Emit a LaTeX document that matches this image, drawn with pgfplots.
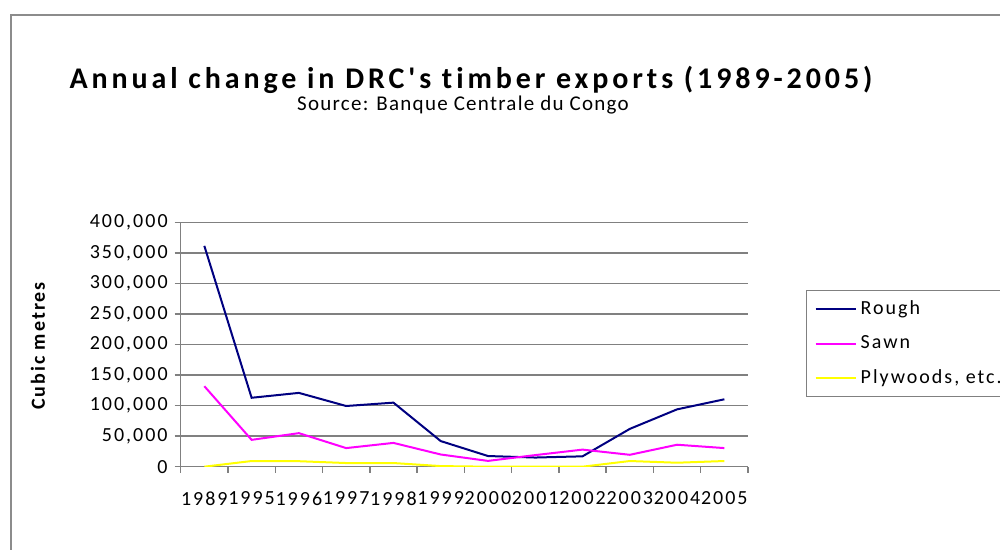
\documentclass[border=0pt]{standalone}
\usepackage{fontspec}
\setmainfont{Carlito}
\newfontfamily\tickfont{Carlito}[LetterSpace=10, Ligatures=NoCommon]
\newfontfamily\subfont{Carlito}[LetterSpace=6, Ligatures=NoCommon]
\newfontfamily\titlefont{Carlito}[LetterSpace=13, Ligatures=NoCommon]
\usepackage{pgfplots}
\pgfplotsset{compat=1.18}
\definecolor{rough}{RGB}{0,0,128}
\definecolor{sawn}{RGB}{255,0,255}
\definecolor{ply}{RGB}{255,255,0}
\definecolor{frame}{RGB}{140,140,140}
\begin{document}
\begin{tikzpicture}[x=1pt,y=1pt]
\useasboundingbox (0,0) rectangle (500,275);
\clip (0,0) rectangle (500,275);
\draw[frame, line width=0.75pt] (5.5,-10) -- (5.5,267.5) -- (510,267.5);
\node[font=\titlefont\bfseries\fontsize{15}{17}\selectfont, anchor=base, inner sep=0pt] at (235.5,230.5) {Annual change in DRC's timber exports (1989-2005)};
\node[font=\subfont\fontsize{10.5}{12}\selectfont, anchor=base, inner sep=0pt] at (231.5,219.5) {Source: Banque Centrale du Congo};
\begin{axis}[
  at={(90.35pt,41.65pt)}, anchor=south west,
  scale only axis, width=283.65pt, height=122pt,
  xmin=-0.5, xmax=11.5, ymin=0, ymax=400000,
  axis x line=bottom, axis y line=left,
  axis line style={-, draw=gray, line width=0.75pt},
  xtick={0,...,11},
  xticklabels={1989,1995,1996,1997,1998,1999,2000,2001,2002,2003,2004,2005},
  major x tick style={draw=none},
  minor xtick={-0.5,0.5,...,11.5},
  minor tick length=3pt,
  tick align=outside,
  ytick={0,50000,100000,150000,200000,250000,300000,350000,400000},
  yticklabels={0,{50,000},{100,000},{150,000},{200,000},{250,000},{300,000},{350,000},{400,000}},
  major tick length=3pt,
  tick style={gray, line width=0.75pt},
  ymajorgrids, grid style={gray, line width=0.75pt},
  scaled y ticks=false,
  ticklabel style={font=\tickfont\fontsize{10}{12}\selectfont},
  xticklabel style={inner xsep=0pt, yshift=-6pt},
  ylabel={Cubic metres},
  ylabel style={at={(axis description cs:-0.2515,0.4947)}, anchor=center, font=\tickfont\bfseries\fontsize{10}{12}\selectfont},
  legend style={at={(1.1022,0.7242)}, anchor=north west, draw=gray, line width=0.75pt,
    font=\tickfont\fontsize{10}{12}\selectfont, row sep=5pt, inner xsep=4pt, inner ysep=3pt},
  legend cell align=left,
  legend image code/.code={\draw[#1,line width=1pt] (0pt,0pt) -- (20pt,0pt);},
]
\addplot[rough, line width=1pt] coordinates {(0,362000)(1,113000)(2,121000)(3,99500)(4,105000)(5,42000)(6,17500)(7,15000)(8,17000)(9,62000)(10,94000)(11,110500)};
\addlegendentry{Rough}
\addplot[sawn, line width=1pt] coordinates {(0,132000)(1,44000)(2,55000)(3,30500)(4,39000)(5,20000)(6,9500)(7,19000)(8,28000)(9,19500)(10,36000)(11,30500)};
\addlegendentry{Sawn}
\addplot[ply, line width=1pt] coordinates {(0,0)(1,9300)(2,9000)(3,6000)(4,6000)(5,1000)(6,0)(7,0)(8,0)(9,9300)(10,6500)(11,9300)};
\addlegendentry{Plywoods, etc.}
\end{axis}
\end{tikzpicture}
\end{document}
